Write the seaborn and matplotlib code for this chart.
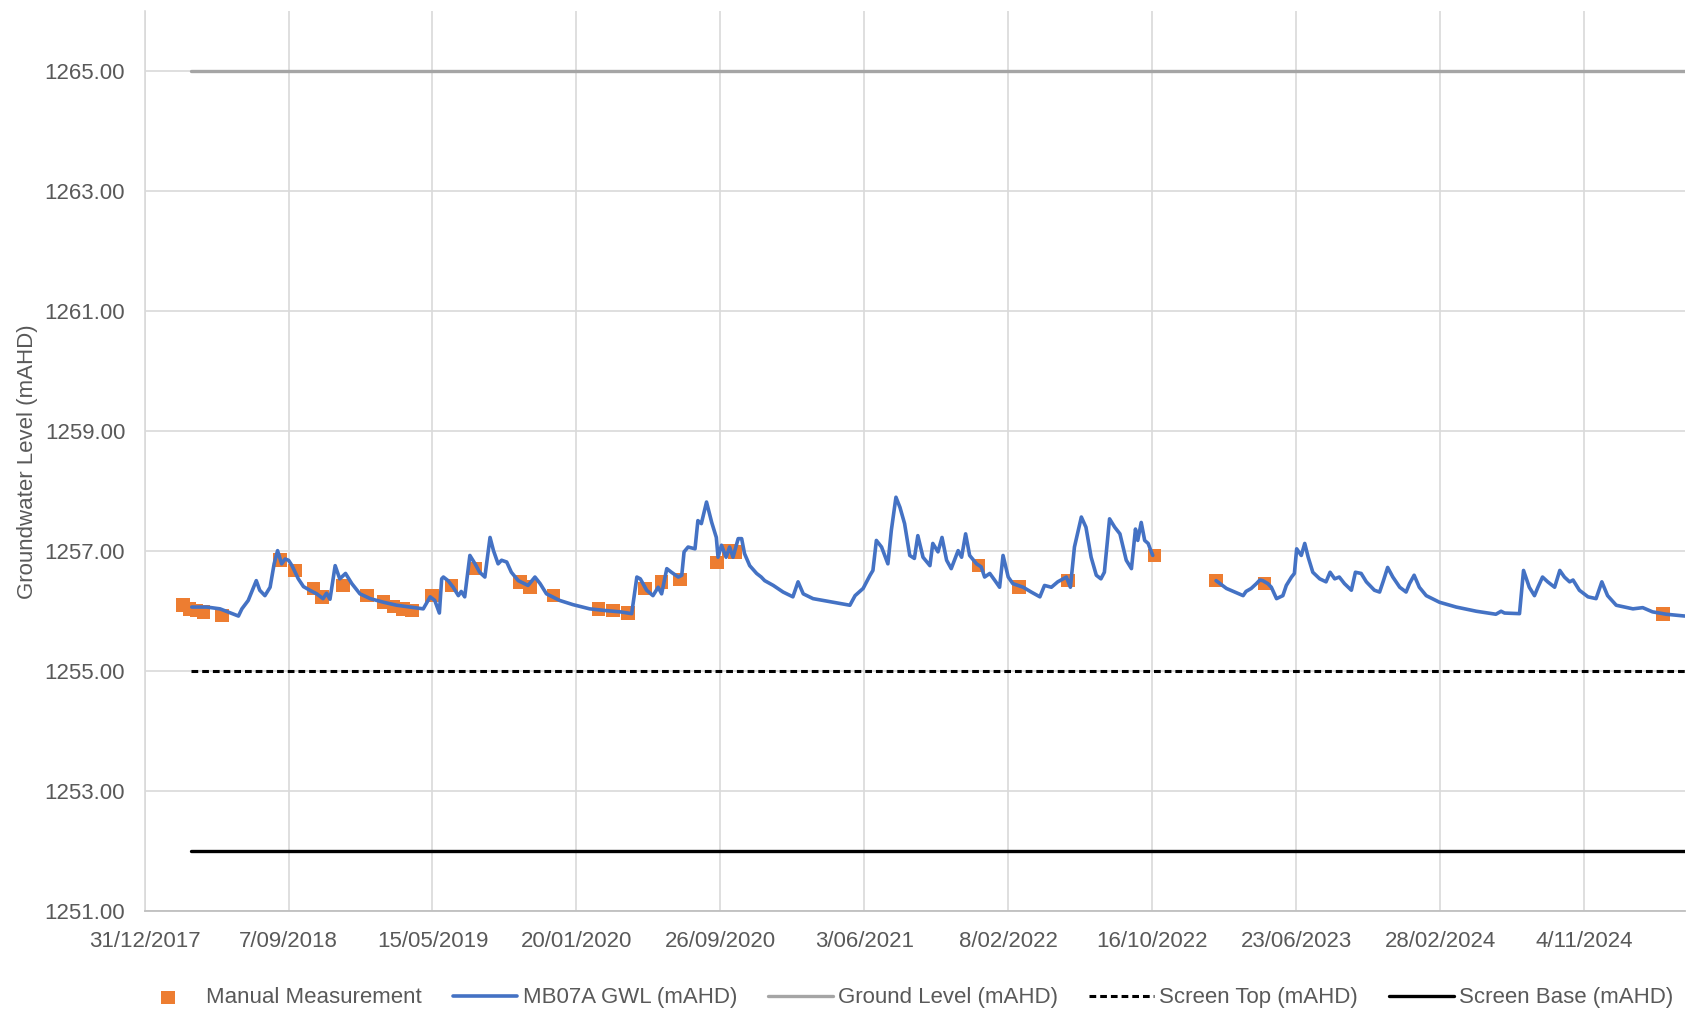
import numpy as np
import pandas as pd
import matplotlib
matplotlib.use("Agg")
import matplotlib.pyplot as plt
import seaborn as sns

# 日期按 31/12/2017 起算的天数记录
base_date = "2017-12-31"

# 自动记录仪水位（第一段）
gwl_day_1 = [82, 108, 131, 163, 169, 180, 194, 200, 209, 218, 225, 231, 238, 244, 250, 256,
             267, 276, 287, 299, 310, 316, 322, 331, 339, 349, 360, 374, 392, 415, 438, 461,
             484, 496, 504, 512, 516, 519, 527, 536, 545, 550, 556, 565, 574, 582, 591, 600,
             606, 614, 620, 629, 637, 649, 666, 678, 687, 698, 721, 744, 773, 802, 826, 846,
             855, 861, 872, 883, 892, 898, 907, 915, 927, 933, 937, 944, 956, 961, 967, 976,
             985, 993, 996, 1002, 1010, 1016, 1022, 1031, 1037, 1042, 1051, 1063, 1071, 1077,
             1092, 1109, 1126, 1135, 1144, 1161, 1184, 1207, 1225, 1234, 1248, 1260, 1265,
             1271, 1280, 1291, 1297, 1305, 1312, 1320, 1329, 1337, 1343, 1352, 1364, 1369,
             1378, 1385, 1393, 1401, 1413, 1419, 1426, 1433, 1445, 1453, 1459, 1468, 1477,
             1485, 1491, 1500, 1508, 1526, 1540, 1555, 1563, 1575, 1586, 1601, 1608, 1615,
             1627, 1635, 1644, 1653, 1661, 1667, 1676, 1685, 1694, 1705, 1714, 1721, 1725,
             1731, 1737, 1743, 1751]
gwl_level_1 = [1256.07, 1256.07, 1256.04, 1255.92, 1256.04, 1256.18, 1256.51, 1256.35, 1256.26,
               1256.40, 1256.79, 1257.01, 1256.79, 1256.87, 1256.85, 1256.76, 1256.54, 1256.41,
               1256.35, 1256.29, 1256.21, 1256.30, 1256.20, 1256.76, 1256.54, 1256.63, 1256.46,
               1256.29, 1256.21, 1256.15, 1256.10, 1256.07, 1256.04, 1256.24, 1256.18, 1255.97,
               1256.54, 1256.57, 1256.51, 1256.40, 1256.26, 1256.33, 1256.24, 1256.93, 1256.79,
               1256.65, 1256.57, 1257.23, 1257.01, 1256.79, 1256.85, 1256.82, 1256.65, 1256.51,
               1256.43, 1256.57, 1256.46, 1256.29, 1256.18, 1256.11, 1256.04, 1256.01, 1255.99,
               1255.96, 1256.57, 1256.54, 1256.35, 1256.26, 1256.40, 1256.29, 1256.71, 1256.65,
               1256.57, 1256.60, 1256.99, 1257.07, 1257.04, 1257.51, 1257.46, 1257.82, 1257.48,
               1257.23, 1256.90, 1257.10, 1256.90, 1257.07, 1256.90, 1257.21, 1257.21, 1256.96,
               1256.76, 1256.63, 1256.57, 1256.51, 1256.43, 1256.32, 1256.24, 1256.49, 1256.29,
               1256.21, 1256.17, 1256.13, 1256.10, 1256.26, 1256.38, 1256.60, 1256.68, 1257.18,
               1257.07, 1256.79, 1257.35, 1257.90, 1257.73, 1257.46, 1256.93, 1256.88, 1257.26,
               1256.90, 1256.76, 1257.13, 1256.99, 1257.23, 1256.85, 1256.71, 1257.01, 1256.90,
               1257.29, 1256.93, 1256.79, 1256.74, 1256.57, 1256.63, 1256.51, 1256.40, 1256.93,
               1256.57, 1256.46, 1256.40, 1256.32, 1256.24, 1256.43, 1256.40, 1256.49, 1256.57,
               1256.40, 1257.07, 1257.57, 1257.40, 1256.90, 1256.60, 1256.54, 1256.65, 1257.54,
               1257.40, 1257.29, 1256.85, 1256.71, 1257.37, 1257.18, 1257.48, 1257.18, 1257.13,
               1256.93]

# 自动记录仪水位（第二段，缺测之后）
gwl_day_2 = [1861, 1879, 1908, 1913, 1922, 1931, 1937, 1942, 1951, 1957, 1966, 1977, 1983, 1992,
             1997, 2001, 2009, 2015, 2021, 2029, 2041, 2052, 2059, 2067, 2075, 2084, 2096, 2103,
             2113, 2122, 2136, 2145, 2151, 2159, 2168, 2180, 2191, 2197, 2205, 2214, 2226, 2249,
             2278, 2313, 2347, 2356, 2362, 2388, 2395, 2405, 2414, 2420, 2428, 2437, 2449, 2458,
             2466, 2475, 2481, 2492, 2507, 2521, 2531, 2541, 2556, 2585, 2602, 2619, 2643, 2675]
gwl_level_2 = [1256.51, 1256.38, 1256.26, 1256.33, 1256.38, 1256.46, 1256.52, 1256.51, 1256.46,
               1256.40, 1256.21, 1256.26, 1256.43, 1256.57, 1256.63, 1257.04, 1256.93, 1257.13,
               1256.90, 1256.65, 1256.54, 1256.49, 1256.65, 1256.54, 1256.57, 1256.46, 1256.35,
               1256.65, 1256.63, 1256.49, 1256.35, 1256.32, 1256.49, 1256.73, 1256.57, 1256.40,
               1256.32, 1256.46, 1256.60, 1256.40, 1256.26, 1256.15, 1256.07, 1256.00, 1255.95,
               1256.00, 1255.97, 1255.96, 1256.68, 1256.40, 1256.26, 1256.40, 1256.57, 1256.49,
               1256.40, 1256.68, 1256.57, 1256.49, 1256.52, 1256.35, 1256.24, 1256.21, 1256.49,
               1256.26, 1256.10, 1256.04, 1256.06, 1255.99, 1255.95, 1255.92]

# 人工测量
manual_day = [67, 78, 90, 102, 134, 235, 261, 293, 308, 345, 386, 415, 432, 449, 464, 499, 533,
              574, 652, 669, 710, 788, 814, 840, 869, 898, 930, 994, 1014, 1025, 1448, 1519, 1604,
              1754, 1861, 1945, 2637]
manual_level = [1256.10, 1256.04, 1256.01, 1255.99, 1255.93, 1256.85, 1256.68, 1256.38, 1256.24,
                1256.43, 1256.26, 1256.15, 1256.08, 1256.04, 1256.01, 1256.26, 1256.43, 1256.71,
                1256.49, 1256.40, 1256.26, 1256.04, 1256.01, 1255.97, 1256.38, 1256.49, 1256.53,
                1256.81, 1257.01, 1256.99, 1256.76, 1256.40, 1256.51, 1256.93, 1256.51, 1256.46,
                1255.95]

# 参考高程
ground_level = 1265.0
screen_top = 1255.0
screen_base = 1252.0
ref_day = [80, 2675]

tick_labels = ["31/12/2017", "7/09/2018", "15/05/2019", "20/01/2020", "26/09/2020", "3/06/2021",
               "8/02/2022", "16/10/2022", "23/06/2023", "28/02/2024", "4/11/2024"]
y_ticks = [1251, 1253, 1255, 1257, 1259, 1261, 1263, 1265]


def to_date(days):
    return pd.Timestamp(base_date) + pd.to_timedelta(days, unit="D")


sns.set_style("white")
plt.rcParams["font.family"] = ["Liberation Sans", "DejaVu Sans"]
text_color = "#595959"

gwl1 = pd.DataFrame({"date": to_date(gwl_day_1), "level": gwl_level_1})
gwl2 = pd.DataFrame({"date": to_date(gwl_day_2), "level": gwl_level_2})
manual = pd.DataFrame({"date": to_date(manual_day), "level": manual_level})
ref_dates = to_date(ref_day)
gl = pd.DataFrame({"date": ref_dates, "level": [ground_level] * 2})
st = pd.DataFrame({"date": ref_dates, "level": [screen_top] * 2})
sb = pd.DataFrame({"date": ref_dates, "level": [screen_base] * 2})

fig = plt.figure(figsize=(16.91, 10.13), dpi=100)
ax = fig.add_axes([0.0855, 0.1004, 0.9108, 0.8886])

sns.scatterplot(data=manual, x="date", y="level", marker="s", s=95, color="#ED7D31",
                edgecolor="none", label="Manual Measurement", ax=ax, zorder=3)
sns.lineplot(data=gwl1, x="date", y="level", color="#4472C4", linewidth=2.6,
             label="MB07A GWL (mAHD)", ax=ax, zorder=4)
sns.lineplot(data=gwl2, x="date", y="level", color="#4472C4", linewidth=2.6,
             label="_nolegend_", ax=ax, zorder=4)
sns.lineplot(data=gl, x="date", y="level", color="#A5A5A5", linewidth=2.4,
             label="Ground Level (mAHD)", ax=ax, zorder=2)
sns.lineplot(data=st, x="date", y="level", color="black", linewidth=2.2,
             linestyle=(0, (2.2, 1.3)), label="Screen Top (mAHD)", ax=ax, zorder=2)
sns.lineplot(data=sb, x="date", y="level", color="black", linewidth=2.4,
             label="Screen Base (mAHD)", ax=ax, zorder=2)

ax.set_xlim(to_date(0), to_date(2675))
ax.set_ylim(1251, 1266)
ax.set_xticks(pd.to_datetime(tick_labels, dayfirst=True))
ax.set_xticklabels(tick_labels)
ax.set_yticks(y_ticks)
ax.set_yticklabels([f"{v:.2f}" for v in y_ticks])
ax.tick_params(axis="both", length=0, labelsize=16, colors=text_color)
ax.tick_params(axis="y", pad=14)
ax.tick_params(axis="x", pad=14)
ax.set_xlabel("")
ax.set_ylabel("Groundwater Level (mAHD)", fontsize=16, color=text_color, labelpad=5)

ax.grid(True, color="#d9d9d9", linewidth=1.2)
ax.set_axisbelow(True)
for side in ["top", "right"]:
    ax.spines[side].set_visible(False)
ax.spines["left"].set_color("#d9d9d9")
ax.spines["left"].set_linewidth(1.2)
ax.spines["bottom"].set_color("#bfbfbf")
ax.spines["bottom"].set_linewidth(1.3)

handles, labels = ax.get_legend_handles_labels()
ax.get_legend().remove()
leg = fig.legend(handles, labels, loc="center", bbox_to_anchor=(0.535, 0.015), ncol=5,
                 frameon=False, fontsize=16, handlelength=2.9, handletextpad=0.25,
                 columnspacing=1.4, labelcolor=text_color)

fig.savefig("out.png", dpi=100)
